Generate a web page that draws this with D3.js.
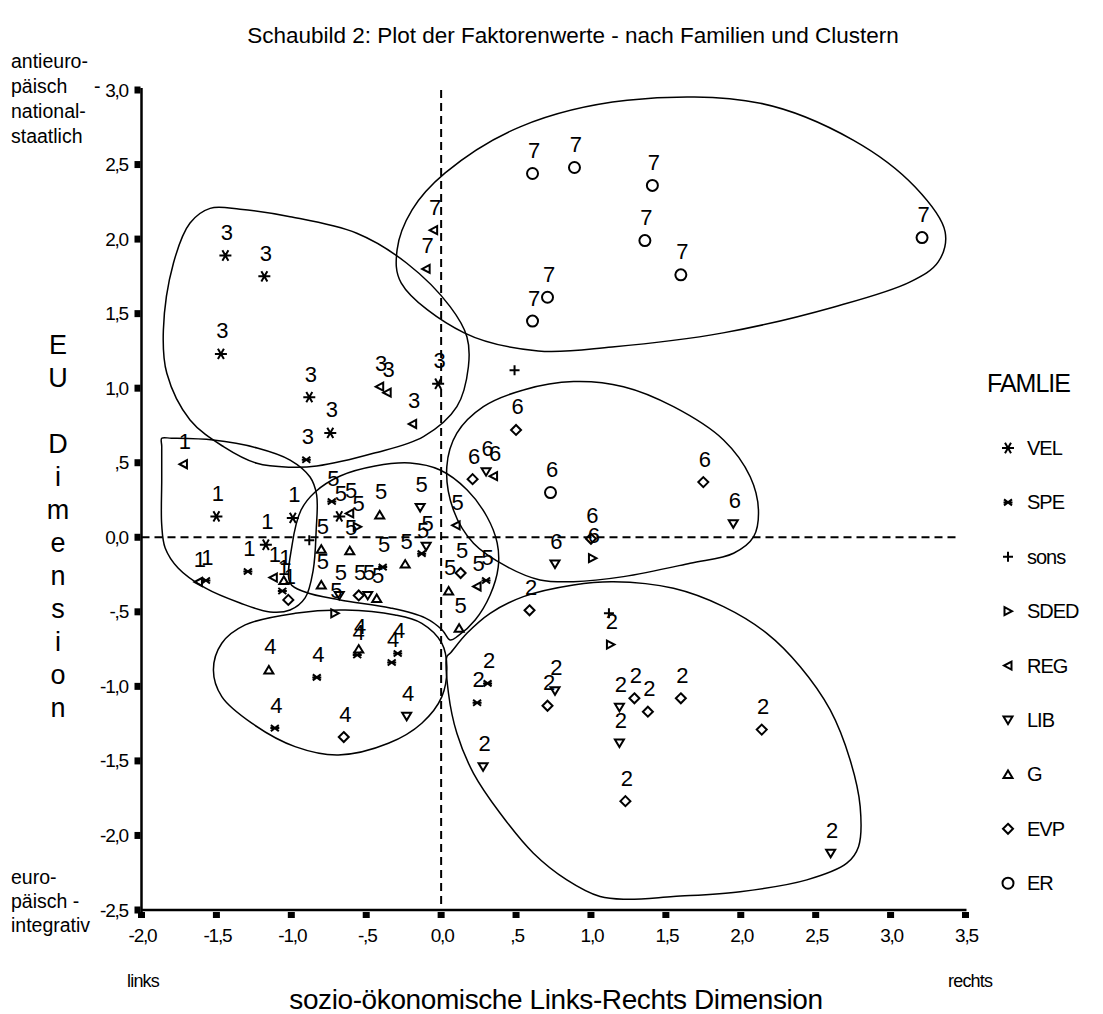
<!doctype html>
<html>
<head>
<meta charset="UTF-8">
<title>Schaubild 2</title>
<script src="https://d3js.org/d3.v7.min.js"></script>
<style>
  body { margin: 0; background: #fff; }
  text { font-family: "Liberation Sans", Arial, sans-serif; fill: #000; }
</style>
</head>
<body>
<script>
// --- data ---
var families = ["VEL", "SPE", "sons", "SDED", "REG", "LIB", "G", "EVP", "ER"];

var xTicks = [-2, -1.5, -1, -0.5, 0, 0.5, 1, 1.5, 2, 2.5, 3, 3.5];
var xTickLabels = ["-2,0", "-1,5", "-1,0", "-,5", "0,0", ",5", "1,0", "1,5", "2,0", "2,5", "3,0", "3,5"];
var yTicks = [3, 2.5, 2, 1.5, 1, 0.5, 0, -0.5, -1, -1.5, -2, -2.5];
var yTickLabels = ["3,0", "2,5", "2,0", "1,5", "1,0", ",5", "0,0", "-,5", "-1,0", "-1,5", "-2,0", "-2,5"];

var pointFamily = [
  "ER","ER","ER","ER","ER","ER","ER","ER","REG","REG",
  "VEL","VEL","VEL","VEL","VEL","SPE","REG","REG","REG","VEL",
  "sons",
  "EVP","EVP","LIB","REG","ER","EVP","LIB","EVP","SDED","LIB",
  "REG","VEL","VEL","VEL","SPE","SPE","REG","REG","G","SPE","EVP",
  "SPE","VEL","REG","SDED","G","LIB","G","G","G","LIB","EVP","LIB","G","SPE","G","SPE","LIB","SDED","REG","EVP","G","REG","SPE","G","sons",
  "G","SPE","SPE","SPE","G","SPE","SPE","EVP","LIB",
  "EVP","sons","SDED","SPE","SPE","LIB","EVP","LIB","EVP","EVP","EVP","LIB","LIB","EVP","EVP","LIB"
];
var pointX = [
  0.61, 0.89, 1.41, 1.36, 1.60, 3.21, 0.71, 0.61, -0.05, -0.10,
  -1.44, -1.18, -1.47, -0.88, -0.74, -0.90, -0.41, -0.36, -0.19, -0.02,
  0.49,
  0.50, 0.21, 0.30, 0.35, 0.73, 1.75, 1.95, 1.00, 1.01, 0.76,
  -1.72, -1.50, -0.99, -1.17, -1.29, -1.57, -1.62, -1.12, -1.05, -1.06, -1.02,
  -0.73, -0.68, -0.61, -0.56, -0.41, -0.14, -0.80, -0.61, -0.80, -0.68, -0.55, -0.49, -0.43, -0.39, -0.24, -0.13, -0.10, -0.71, 0.10, 0.13, 0.05, 0.24, 0.30, 0.12, -0.88,
  -0.55, -0.56, -0.29, -0.33, -1.15, -0.83, -1.11, -0.65, -0.23,
  0.59, 1.12, 1.13, 0.31, 0.24, 0.76, 0.71, 1.19, 1.29, 1.38, 1.60, 1.19, 0.28, 1.23, 2.14, 2.60
];
var pointY = [
  2.44, 2.48, 2.36, 1.99, 1.76, 2.01, 1.61, 1.45, 2.06, 1.80,
  1.89, 1.75, 1.23, 0.94, 0.70, 0.52, 1.01, 0.97, 0.76, 1.03,
  1.12,
  0.72, 0.39, 0.44, 0.41, 0.30, 0.37, 0.09, -0.01, -0.14, -0.18,
  0.49, 0.14, 0.13, -0.05, -0.23, -0.29, -0.30, -0.27, -0.29, -0.36, -0.42,
  0.24, 0.14, 0.16, 0.07, 0.15, 0.20, -0.08, -0.09, -0.32, -0.39, -0.39, -0.39, -0.41, -0.20, -0.18, -0.11, -0.06, -0.51, 0.08, -0.24, -0.36, -0.33, -0.29, -0.61, -0.02,
  -0.75, -0.79, -0.78, -0.84, -0.89, -0.94, -1.28, -1.34, -1.20,
  -0.49, -0.51, -0.72, -0.98, -1.11, -1.03, -1.13, -1.14, -1.08, -1.17, -1.08, -1.38, -1.54, -1.77, -1.29, -2.12
];
var pointCluster = [
  "7","7","7","7","7","7","7","7","7","7",
  "3","3","3","3","3","3","3","3","3","3",
  "",
  "6","6","6","6","6","6","6","6","6","6",
  "1","1","1","1","1","1","1","1","1","1","1",
  "5","5","5","5","5","5","5","5","5","5","5","5","5","5","5","5","5","5","5","5","5","5","5","5","",
  "4","4","4","4","4","4","4","4","4",
  "2","","2","2","2","2","2","2","2","2","2","2","2","2","2","2"
];

// freehand cluster outlines (data units)
var outline1 = [[-1.865,0.664],[-1.80,0.664],[-1.522,0.652],[-1.228,0.599],[-1.008,0.518],[-0.875,0.404],[-0.831,0.284],[-0.834,0.049],[-0.854,-0.220],[-0.908,-0.407],[-1.008,-0.488],[-1.142,-0.501],[-1.342,-0.441],[-1.575,-0.340],[-1.756,-0.206],[-1.842,-0.072],[-1.865,0.082],[-1.865,0.384],[-1.865,0.610]];
var outline2 = [[0.038,-0.801],[0.049,-1.046],[0.105,-1.315],[0.216,-1.583],[0.394,-1.851],[0.616,-2.119],[0.839,-2.298],[1.061,-2.410],[1.239,-2.428],[1.550,-2.410],[1.996,-2.377],[2.441,-2.298],[2.708,-2.186],[2.786,-2.075],[2.797,-1.807],[2.730,-1.494],[2.597,-1.158],[2.397,-0.868],[2.174,-0.644],[1.885,-0.465],[1.551,-0.342],[1.150,-0.298],[0.883,-0.320],[0.549,-0.398],[0.327,-0.510],[0.172,-0.644],[0.060,-0.778]];
var outline3 = [[-1.542,2.206],[-1.676,2.108],[-1.787,1.838],[-1.854,1.390],[-1.831,1.100],[-1.676,0.787],[-1.453,0.608],[-1.230,0.496],[-1.008,0.470],[-0.830,0.478],[-0.452,0.563],[-0.118,0.675],[0.105,0.876],[0.182,1.144],[0.172,1.345],[0.060,1.547],[-0.229,1.838],[-0.563,2.039],[-1.008,2.150],[-1.342,2.200]];
var outline4 = [[-1.520,-0.890],[-1.464,-0.711],[-1.308,-0.588],[-0.975,-0.510],[-0.641,-0.488],[-0.307,-0.521],[-0.129,-0.577],[0.005,-0.711],[0.038,-0.868],[0.005,-1.069],[-0.129,-1.247],[-0.352,-1.382],[-0.686,-1.460],[-0.975,-1.404],[-1.264,-1.247],[-1.464,-1.069]];
var outline5 = [[-1.008,-0.307],[-0.995,-0.052],[-0.935,0.183],[-0.841,0.304],[-0.674,0.411],[-0.441,0.478],[-0.207,0.498],[-0.007,0.451],[0.174,0.317],[0.307,0.136],[0.374,-0.038],[0.381,-0.200],[0.327,-0.387],[0.227,-0.555],[0.113,-0.662],[0.060,-0.689],[0.007,-0.622],[-0.107,-0.541],[-0.340,-0.474],[-0.674,-0.421],[-0.908,-0.367]];
var outline6 = [[0.884,1.044],[0.549,0.988],[0.282,0.876],[0.105,0.698],[0.038,0.474],[0.082,0.183],[0.216,-0.040],[0.439,-0.197],[0.660,-0.286],[0.884,-0.298],[1.217,-0.264],[1.662,-0.174],[1.952,-0.107],[2.086,0.004],[2.118,0.183],[2.063,0.406],[1.885,0.653],[1.551,0.876],[1.217,1.010]];
var outline7 = [[1.242,2.931],[2.130,2.911],[2.750,2.664],[3.164,2.349],[3.364,2.048],[3.318,1.847],[3.131,1.713],[2.623,1.545],[1.882,1.371],[1.141,1.277],[0.648,1.250],[0.154,1.371],[-0.267,1.707],[-0.294,1.928],[-0.194,2.196],[0.027,2.444],[0.527,2.753]];
var outlines = [outline1, outline2, outline3, outline4, outline5, outline6, outline7];

// --- chart ---
var w = 1103, h = 1014;
var svg = d3.select("body").append("svg").attr("width", w).attr("height", h);
svg.append("rect").attr("width", w).attr("height", h).attr("fill", "#fff");

var x = d3.scaleLinear().domain([-2, 3.5]).range([141.5, 965.5]);
var y = d3.scaleLinear().domain([-2.5, 3]).range([910, 90]);

function markerPath(f) {
  switch (f) {
    case "VEL":  return "M-6,0H6M-3,-5.2L3,5.2M-3,5.2L3,-5.2";
    case "SPE":  return "M-4,-3L4,3M-4,3L4,-3M-4.5,0H4.5";
    case "sons": return "M-5,0H5M0,-5V5";
    case "SDED": return "M-3.5,-4L4,0L-3.5,4Z";
    case "REG":  return "M3.5,-4L-4,0L3.5,4Z";
    case "LIB":  return "M-4.5,-3.5H4.5L0,4Z";
    case "G":    return "M-4.5,3.5H4.5L0,-4Z";
    case "EVP":  return "M0,-5L5,0L0,5L-5,0Z";
    case "ER":   return "M5.5,0A5.5,5.5 0 1,1 -5.5,0A5.5,5.5 0 1,1 5.5,0Z";
  }
}

// title
svg.append("text").attr("x", 573).attr("y", 43).attr("text-anchor", "middle")
  .attr("font-size", 22.5).text("Schaubild 2: Plot der Faktorenwerte - nach Familien und Clustern");

// reference lines
svg.append("line").attr("x1", x(0)).attr("x2", x(0)).attr("y1", y(3)).attr("y2", y(-2.5))
  .attr("stroke", "#000").attr("stroke-width", 2).attr("stroke-dasharray", "8,5");
svg.append("line").attr("x1", x(-2)).attr("x2", x(3.45)).attr("y1", y(0)).attr("y2", y(0))
  .attr("stroke", "#000").attr("stroke-width", 2).attr("stroke-dasharray", "8,5");

// cluster outlines
var outlineLine = d3.line()
  .x(function (d) { return x(d[0]); })
  .y(function (d) { return y(d[1]); })
  .curve(d3.curveCatmullRomClosed.alpha(0.5));
svg.selectAll("path.outline").data(outlines).enter().append("path")
  .attr("class", "outline")
  .attr("d", outlineLine)
  .attr("fill", "none").attr("stroke", "#000").attr("stroke-width", 1.5);

// axes
svg.append("line").attr("x1", x(-2)).attr("x2", x(-2)).attr("y1", y(3) - 2).attr("y2", y(-2.5) + 2)
  .attr("stroke", "#000").attr("stroke-width", 2.5);
svg.append("line").attr("x1", x(-2)).attr("x2", x(3.5) + 1).attr("y1", y(-2.5)).attr("y2", y(-2.5))
  .attr("stroke", "#000").attr("stroke-width", 2.5);

svg.selectAll("rect.yt").data(yTicks).enter().append("rect").attr("class", "yt")
  .attr("x", x(-2) - 7).attr("y", function (d) { return y(d) - 3.5; })
  .attr("width", 6).attr("height", 7).attr("fill", "#000");
svg.selectAll("rect.xt").data(xTicks).enter().append("rect").attr("class", "xt")
  .attr("x", function (d) { return x(d) - 3.5; }).attr("y", y(-2.5) + 2)
  .attr("width", 7).attr("height", 6).attr("fill", "#000");

svg.selectAll("text.yl").data(yTicks).enter().append("text").attr("class", "yl")
  .attr("x", 128).attr("y", function (d) { return y(d) + 6.5; })
  .attr("text-anchor", "end").attr("font-size", 19).attr("letter-spacing", -1.2)
  .text(function (d, i) { return yTickLabels[i]; });
svg.selectAll("text.xl").data(xTicks).enter().append("text").attr("class", "xl")
  .attr("x", function (d) { return x(d) + 1; }).attr("y", 942)
  .attr("text-anchor", "middle").attr("font-size", 19).attr("letter-spacing", -1.2)
  .text(function (d, i) { return xTickLabels[i]; });

// y axis annotations
var topNote = ["antieuro-", "päisch", "national-", "staatlich"];
svg.selectAll("text.tn").data(topNote).enter().append("text").attr("class", "tn")
  .attr("x", 11).attr("y", function (d, i) { return 68 + 25 * i; })
  .attr("font-size", 19.5).text(function (d) { return d; });
svg.append("text").attr("x", 94).attr("y", 93).attr("font-size", 19.5).text("-");
var bottomNote = ["euro-", "päisch -", "integrativ"];
svg.selectAll("text.bn").data(bottomNote).enter().append("text").attr("class", "bn")
  .attr("x", 11).attr("y", function (d, i) { return 884 + 24 * i; })
  .attr("font-size", 19.5).text(function (d) { return d; });

// vertical axis title
var yTitle = ["E", "U", "", "D", "i", "m", "e", "n", "s", "i", "o", "n"];
svg.selectAll("text.yt2").data(yTitle).enter().append("text").attr("class", "yt2")
  .attr("x", 58).attr("y", function (d, i) { return 354 + 33 * i; })
  .attr("text-anchor", "middle").attr("font-size", 27).text(function (d) { return d; });

// x axis annotations
svg.append("text").attr("x", 127).attr("y", 987).attr("font-size", 18).attr("letter-spacing", -0.8).text("links");
svg.append("text").attr("x", 948).attr("y", 987).attr("font-size", 18).attr("letter-spacing", -0.8).text("rechts");
svg.append("text").attr("x", 556).attr("y", 1009).attr("text-anchor", "middle")
  .attr("font-size", 28).attr("letter-spacing", -0.4).text("sozio-ökonomische Links-Rechts Dimension");

// points
var idx = d3.range(pointX.length);
svg.selectAll("path.pt").data(idx).enter().append("path").attr("class", "pt")
  .attr("transform", function (i) { return "translate(" + x(pointX[i]) + "," + y(pointY[i]) + ")"; })
  .attr("d", function (i) { return markerPath(pointFamily[i]); })
  .attr("fill", "none").attr("stroke", "#000").attr("stroke-width", 2);
svg.selectAll("text.cl").data(idx).enter().append("text").attr("class", "cl")
  .attr("x", function (i) { return x(pointX[i]) + 1.5; })
  .attr("y", function (i) { return y(pointY[i]) - 15.5; })
  .attr("text-anchor", "middle").attr("font-size", 22).attr("fill", "#111")
  .text(function (i) { return pointCluster[i]; });

// legend
svg.append("text").attr("x", 987).attr("y", 392).attr("font-size", 25).attr("letter-spacing", -1).text("FAMLIE");
var lg = svg.selectAll("g.lg").data(families).enter().append("g").attr("class", "lg")
  .attr("transform", function (d, i) { return "translate(0," + (448 + 54.4 * i) + ")"; });
lg.append("path").attr("transform", "translate(1008,0)")
  .attr("d", function (d) { return markerPath(d); })
  .attr("fill", "none").attr("stroke", "#000").attr("stroke-width", 2);
lg.append("text").attr("x", 1027).attr("y", 7).attr("font-size", 20).attr("letter-spacing", -1)
  .text(function (d) { return d; });
</script>
</body>
</html>
